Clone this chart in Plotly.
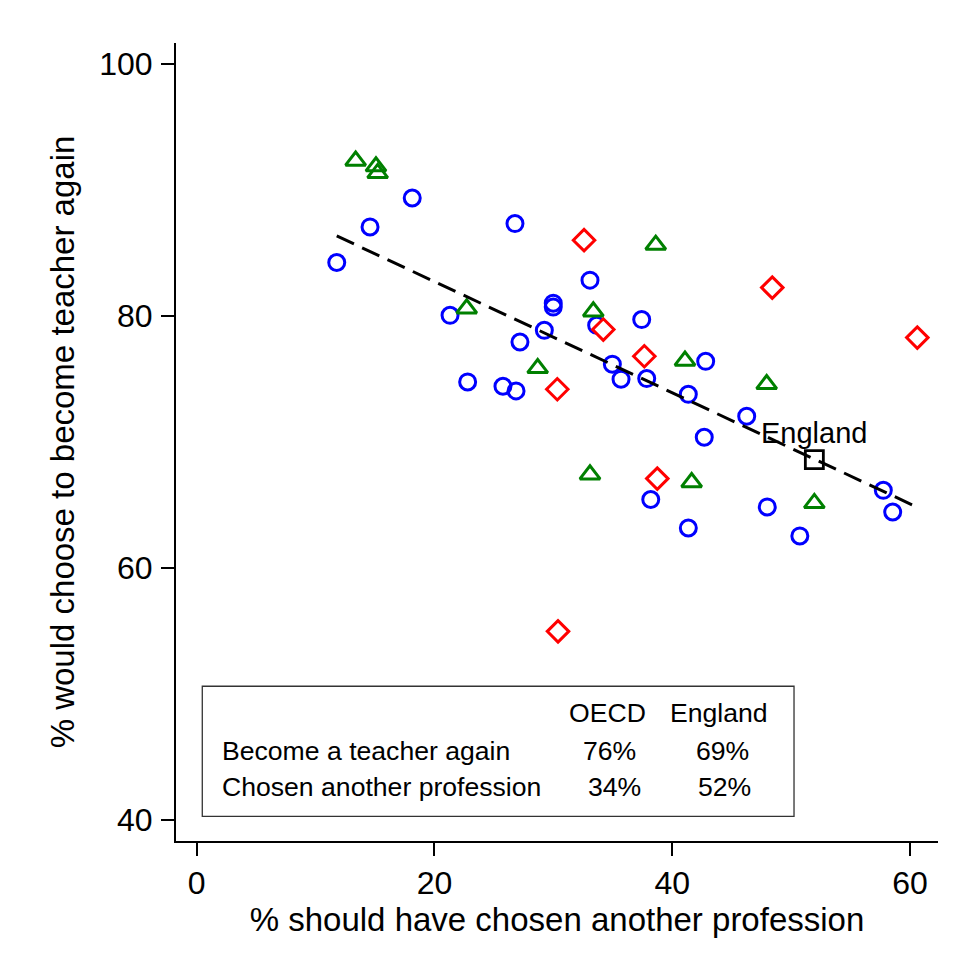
import plotly.graph_objects as go

# ---- data ----
blue_x = [11.78, 14.58, 18.13, 26.77, 21.31, 22.79, 25.76, 26.86, 27.19, 29.24,
          29.99, 29.99, 33.08, 33.64, 37.43, 34.96, 35.69, 37.85, 41.35, 42.81,
          42.69, 46.26, 38.19, 41.35, 47.99, 50.73, 57.75, 58.54]
blue_y = [84.21, 87.03, 89.33, 87.30, 80.02, 74.73, 74.39, 74.02, 77.90, 78.83,
          80.98, 80.67, 82.81, 79.23, 79.68, 76.14, 74.95, 75.00, 73.75, 76.37,
          70.34, 72.01, 65.40, 63.14, 64.81, 62.51, 66.13, 64.41]

red_x = [32.58, 48.41, 60.61, 34.20, 37.65, 30.33, 38.74, 30.39]
red_y = [85.98, 82.22, 78.25, 78.89, 76.77, 74.15, 67.06, 54.94]

green_x = [13.37, 15.08, 15.22, 22.71, 28.68, 33.36, 38.61, 41.07, 47.94, 33.08,
           41.63, 51.95]
green_y = [92.28, 91.83, 91.30, 80.56, 75.82, 80.32, 85.61, 76.41, 74.55, 67.38,
           66.77, 65.11]

england_x = [51.95]
england_y = [68.57]
england_label = "England"

fit_x = [11.78, 60.56]
fit_y = [86.32, 64.81]

x_ticks = [0, 20, 40, 60]
y_ticks = [40, 60, 80, 100]
x_title = "% should have chosen another profession"
y_title = "% would choose to become teacher again"

table_cols = ["OECD", "England"]
table_rows = ["Become a teacher again", "Chosen another profession"]
table_vals = [["76%", "69%"], ["34%", "52%"]]

FONT = "Arial, Liberation Sans, Helvetica, sans-serif"

fig = go.Figure()

fig.add_trace(go.Scatter(
    x=blue_x, y=blue_y, mode="markers",
    marker=dict(symbol="circle-open", size=16, color="#0000FF",
                line=dict(width=3, color="#0000FF")),
    showlegend=False, hoverinfo="x+y"))

fig.add_trace(go.Scatter(
    x=red_x, y=red_y, mode="markers",
    marker=dict(symbol="diamond", size=16.5, color="white",
                line=dict(width=3, color="#FF0000")),
    showlegend=False, hoverinfo="x+y"))

fig.add_trace(go.Scatter(
    x=green_x, y=green_y, mode="markers",
    marker=dict(symbol="triangle-up-open", size=17.5, color="#008000",
                line=dict(width=3, color="#008000")),
    showlegend=False, hoverinfo="x+y"))

fig.add_trace(go.Scatter(
    x=england_x, y=england_y, mode="markers",
    marker=dict(symbol="square-open", size=18, color="black",
                line=dict(width=2.8, color="black")),
    showlegend=False, hoverinfo="x+y"))

fig.add_trace(go.Scatter(
    x=fit_x, y=fit_y, mode="lines",
    line=dict(color="black", width=3, dash="19px,9px"),
    showlegend=False, hoverinfo="skip"))

annotations = []
# England marker label
annotations.append(dict(x=england_x[0], y=70.66, xref="x", yref="y",
                        text=england_label, showarrow=False,
                        xanchor="center", yanchor="middle",
                        font=dict(size=29, color="black", family=FONT)))

# table
col_x = [34.55, 43.95]
hdr_y = 48.45
row_y = [45.42, 42.62]
val_x = [[34.74, 44.25], [35.16, 44.41]]
for j, c in enumerate(table_cols):
    annotations.append(dict(x=col_x[j], y=hdr_y, xref="x", yref="y", text=c,
                            showarrow=False, xanchor="center", yanchor="middle",
                            font=dict(size=26.6, color="black", family=FONT)))
for i, r in enumerate(table_rows):
    annotations.append(dict(x=1.95, y=row_y[i], xref="x", yref="y", text=r,
                            showarrow=False, xanchor="left", yanchor="middle",
                            font=dict(size=26.6, color="black", family=FONT)))
    for j in range(2):
        annotations.append(dict(x=val_x[i][j], y=row_y[i], xref="x", yref="y",
                                text=table_vals[i][j], showarrow=False,
                                xanchor="center", yanchor="middle",
                                font=dict(size=26.6, color="black", family=FONT)))

fig.add_shape(type="rect", xref="x", yref="y", x0=0.47, x1=50.24, y0=40.26, y1=50.58,
              line=dict(color="#333333", width=1.3), fillcolor="rgba(0,0,0,0)",
              layer="below")

fig.update_layout(
    width=960, height=965,
    margin=dict(l=168, r=30, t=35, b=132),
    paper_bgcolor="white", plot_bgcolor="white",
    font=dict(family=FONT, color="black"),
    annotations=annotations,
    showlegend=False,
)
fig.update_xaxes(
    range=[-1.74, 62.35], tickvals=x_ticks, ticktext=[str(v) for v in x_ticks],
    showgrid=False, zeroline=False, showline=True, linecolor="black", linewidth=2,
    ticks="outside", ticklen=13, tickwidth=1.7, tickcolor="black",
    tickfont=dict(size=32, family=FONT, color="black"),
    title=dict(text=x_title, font=dict(size=33, family=FONT, color="black"), standoff=0),
)
fig.update_yaxes(
    range=[38.30, 101.63], tickvals=y_ticks, ticktext=[str(v) for v in y_ticks],
    showgrid=False, zeroline=False, showline=True, linecolor="black", linewidth=2,
    ticks="outside", ticklen=13, tickwidth=1.7, tickcolor="black", ticklabelstandoff=2,
    tickfont=dict(size=32, family=FONT, color="black"),
    title=dict(text=y_title, font=dict(size=33, family=FONT, color="black"), standoff=15),
)

fig.write_html("out.html")
